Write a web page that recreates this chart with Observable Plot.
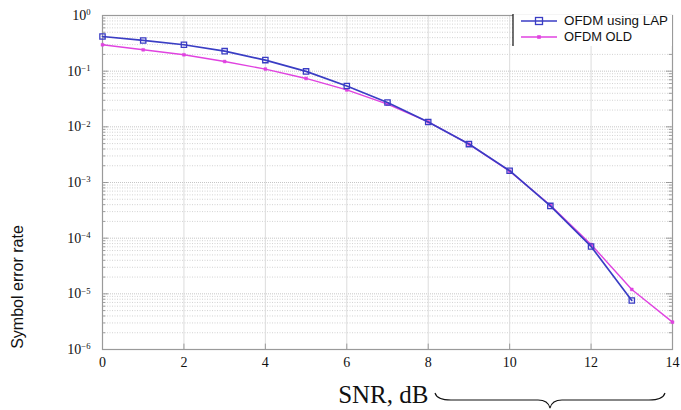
<!DOCTYPE html>
<html>
<head>
<meta charset="utf-8">
<script src="https://cdn.jsdelivr.net/npm/d3@7"></script>
<script src="https://cdn.jsdelivr.net/npm/@observablehq/plot@0.6"></script>
<style>
  html, body { margin: 0; padding: 0; background: #fff; }
  #chart { width: 681px; height: 410px; }
</style>
</head>
<body>
<div id="chart"></div>
<script>
// ---- data ----
const snrLAP = [0, 1, 2, 3, 4, 5, 6, 7, 8, 9, 10, 11, 12, 13];
const serLAP = [0.42, 0.356, 0.298, 0.229, 0.158, 0.099, 0.054, 0.0274, 0.0122, 0.0049, 0.00163, 0.00038, 0.000071, 0.0000076];
const snrOLD = [0, 1, 2, 3, 4, 5, 6, 7, 8, 9, 10, 11, 12, 13, 14];
const serOLD = [0.298, 0.242, 0.197, 0.149, 0.109, 0.074, 0.046, 0.0256, 0.0123, 0.0049, 0.0016, 0.00039, 0.000077, 0.000012, 0.0000031];
const seriesNames = ["OFDM using LAP", "OFDM OLD"];
const xTicks = [0, 2, 4, 6, 8, 10, 12, 14];
const yDecades = [1e0, 1e-1, 1e-2, 1e-3, 1e-4, 1e-5, 1e-6];
const xLabel = "SNR, dB";
const yLabel = "Symbol error rate";

const blue = "#3a3dc4";
const magenta = "#e043e0";

const lap = snrLAP.map((x, i) => ({x, y: serLAP[i]}));
const old = snrOLD.map((x, i) => ({x, y: serOLD[i]}));
const yMinor = [];
for (let e = -6; e < 0; e++) for (let m = 2; m <= 9; m++) yMinor.push(m * Math.pow(10, e));

const plot = Plot.plot({
  width: 681,
  height: 410,
  marginLeft: 102,
  marginRight: 9,
  marginTop: 15,
  marginBottom: 61,
  style: {background: "#fff"},
  x: {domain: [0, 14]},
  y: {type: "log", domain: [1e-6, 1]},
  marks: [
    Plot.ruleY(yMinor, {stroke: "#c8c8c8", strokeWidth: 0.8, strokeDasharray: "1,1.5"}),
    Plot.ruleY(yDecades, {stroke: "#b8b8b8", strokeWidth: 0.8, strokeDasharray: "1,1"}),
    Plot.ruleX(xTicks, {stroke: "#dcdcdc", strokeWidth: 1}),
    // inner tick marks
    Plot.ruleY(yMinor, {x1: 0, x2: 0.08, stroke: "#888", strokeWidth: 0.8}),
    Plot.ruleY(yDecades, {x1: 0, x2: 0.15, stroke: "#888", strokeWidth: 0.8}),
    Plot.ruleY(yMinor, {x1: 13.92, x2: 14, stroke: "#888", strokeWidth: 0.8}),
    Plot.ruleY(yDecades, {x1: 13.85, x2: 14, stroke: "#888", strokeWidth: 0.8}),
    Plot.ruleX(xTicks, {y1: 1e-6, y2: 1.25e-6, stroke: "#888", strokeWidth: 0.8}),
    Plot.frame({stroke: "#9a9a9a", strokeWidth: 1.2}),
    Plot.line(old, {x: "x", y: "y", stroke: magenta, strokeWidth: 1.4}),
    Plot.dot(old, {x: "x", y: "y", symbol: "square", r: 1.6, fill: magenta, stroke: magenta, strokeWidth: 0.5}),
    Plot.line(lap, {x: "x", y: "y", stroke: blue, strokeWidth: 1.7}),
    Plot.dot(lap, {x: "x", y: "y", symbol: "square", r: 3, fill: "none", stroke: blue, strokeWidth: 1.3}),
    Plot.axisX({ticks: xTicks, tickSize: 0, tickPadding: 8, fill: "#111", label: null}),
    Plot.axisY({ticks: yDecades, tickSize: 0, tickPadding: 12, fill: "#111", label: null,
      tickFormat: d => "10^" + Math.round(Math.log10(d))})
  ]
});

document.getElementById("chart").appendChild(plot);

const svg = d3.select(plot);
const serif = "Liberation Serif, Times New Roman, serif";
const sans = "Liberation Sans, Arial, sans-serif";

svg.selectAll("g[aria-label='x-axis tick label'], g[aria-label='y-axis tick label']")
  .attr("font-family", serif).attr("font-size", 14).style("font-family", serif).style("font-size", "14px");

// superscript exponents on y tick labels
svg.selectAll("g[aria-label='y-axis tick label'] text").each(function() {
  const t = this.textContent;
  if (t.startsWith("10^")) {
    const exp = t.slice(3).replace("-", "\u2212");
    const el = d3.select(this);
    el.text("10");
    el.append("tspan").attr("dy", "-0.55em").attr("font-size", "0.62em").text(exp);
  }
});

const xs = plot.scale("x");

// y label
svg.append("text")
  .attr("transform", `translate(23, 287) rotate(-90)`)
  .attr("text-anchor", "middle")
  .style("font-family", sans)
  .style("font-size", "16px")
  .attr("fill", "#111")
  .text(yLabel);

// x label
svg.append("text")
  .attr("x", xs.apply(5.8))
  .attr("y", 403)
  .attr("text-anchor", "start")
  .style("font-family", serif)
  .style("font-size", "25px")
  .attr("fill", "#111")
  .text(xLabel);

// decorative brace after the label
{
  const x0 = 435, x1 = 665, xm = (x0 + x1) / 2, yTop = 393, yMid = 400, yTip = 408;
  const d = `M${x0},${yTop} Q${x0 + 2},${yMid} ${x0 + 16},${yMid} L${xm - 12},${yMid} Q${xm - 2},${yMid} ${xm},${yTip} ` +
            `Q${xm + 2},${yMid} ${xm + 12},${yMid} L${x1 - 16},${yMid} Q${x1 - 2},${yMid} ${x1},${yTop}`;
  svg.append("path").attr("d", d).attr("fill", "none").attr("stroke", "#111").attr("stroke-width", 1.1);
}

// legend
{
  const lx = 513, ly = 15, lw = xs.apply(14) - 513, lh = 31;
  const g = svg.append("g");
  g.append("rect").attr("x", lx).attr("y", ly).attr("width", lw).attr("height", lh).attr("fill", "#fff");
  g.append("line").attr("x1", lx).attr("x2", lx).attr("y1", ly - 1).attr("y2", ly + lh).attr("stroke", "#111").attr("stroke-width", 1.2);
  const rows = [{name: seriesNames[0], color: blue, y: ly + 6, len: 104}, {name: seriesNames[1], color: magenta, y: ly + 22, len: 68}];
  rows.forEach((r, i) => {
    g.append("line").attr("x1", 521).attr("x2", 557).attr("y1", r.y).attr("y2", r.y).attr("stroke", r.color).attr("stroke-width", i === 0 ? 1.7 : 1.4);
    if (i === 0) {
      g.append("rect").attr("x", 539 - 3.5).attr("y", r.y - 3.5).attr("width", 7).attr("height", 7).attr("fill", "none").attr("stroke", r.color).attr("stroke-width", 1.3);
    } else {
      g.append("rect").attr("x", 539 - 1.8).attr("y", r.y - 1.8).attr("width", 3.6).attr("height", 3.6).attr("fill", r.color);
    }
    g.append("text").attr("x", 564).attr("y", r.y).attr("dy", "0.35em")
      .attr("text-anchor", "start")
      .style("font-family", sans).style("font-size", "12.5px").attr("fill", "#111")
      .attr("textLength", r.len).attr("lengthAdjust", "spacingAndGlyphs")
      .text(r.name);
  });
}
</script>
</body>
</html>
